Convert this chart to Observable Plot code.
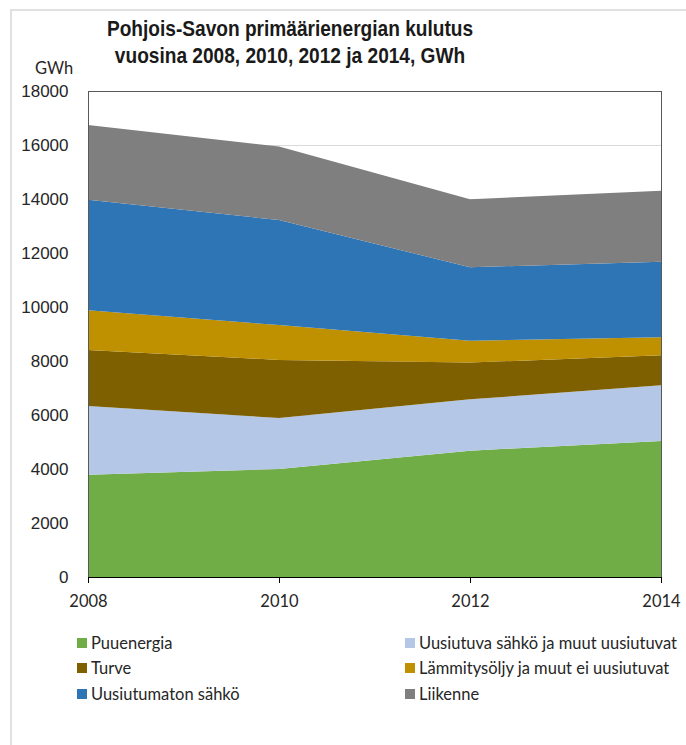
<!DOCTYPE html>
<html>
<head>
<meta charset="utf-8">
<script src="https://cdn.jsdelivr.net/npm/d3@7"></script>
<script src="https://cdn.jsdelivr.net/npm/@observablehq/plot@0.6"></script>
<style>
  html, body { margin: 0; padding: 0; background: #fff; }
  #wrap { position: relative; width: 686px; height: 745px; background: #fff; overflow: hidden; }
  #border { position: absolute; left: 10px; top: 9px; width: 700px; height: 760px;
            border-top: 2px solid #e0e0e0; border-left: 2px solid #e0e0e0; }
  .tline { position: absolute; left: 40px; width: 500px; text-align: center; white-space: nowrap;
           font-family: "Liberation Sans", Arial, sans-serif; font-weight: bold; font-size: 22px;
           line-height: 27px; color: #1a1a1a; transform: scaleX(0.868); transform-origin: 250px 50%; }
  #unit { position: absolute; left: 35px; top: 58px; font-family: Lato, "Open Sans", sans-serif;
          font-size: 16.5px; color: #262626; }
  #chart { position: absolute; left: 0; top: 60px; }
  .leg { position: absolute; font-family: Lato, "Open Sans", sans-serif; font-size: 16.5px; color: #262626;
         display: flex; align-items: center; white-space: nowrap; height: 20px; }
  .leg span.sw { display: inline-block; width: 10px; height: 10px; margin-right: 4px; }
</style>
</head>
<body>
<div id="wrap">
  <div id="border"></div>
  <div class="tline" style="top:15px">Pohjois-Savon primäärienergian kulutus</div>
  <div class="tline" style="top:42px">vuosina 2008, 2010, 2012 ja 2014, GWh</div>
  <div id="unit">GWh</div>
  <div id="chart"></div>
  <div id="legend"></div>
</div>
<script>
// ---- data ----
const years = [2008, 2010, 2012, 2014];
const seriesNames = [
  "Puuenergia",
  "Uusiutuva sähkö ja muut uusiutuvat",
  "Turve",
  "Lämmitysöljy ja muut ei uusiutuvat",
  "Uusiutumaton sähkö",
  "Liikenne"
];
const puuenergia   = [3790, 4000, 4680, 5040];
const uusiutuva    = [2540, 1890, 1900, 2060];
const turve        = [2080, 2150, 1360, 1110];
const lammitysoljy = [1470, 1290, 810, 670];
const uusiutumaton = [4090, 3890, 2720, 2800];
const liikenne     = [2770, 2720, 2520, 2630];
const seriesColors = ["#70AD47", "#B4C7E7", "#7F6000", "#BF9000", "#2E75B6", "#7F7F7F"];
const yTicks = [0, 2000, 4000, 6000, 8000, 10000, 12000, 14000, 16000, 18000];
const xTicks = [2008, 2010, 2012, 2014];

const valuesBySeries = [puuenergia, uusiutuva, turve, lammitysoljy, uusiutumaton, liikenne];
const data = [];
seriesNames.forEach((s, i) => {
  years.forEach((yr, j) => data.push({series: s, year: yr, value: valuesBySeries[i][j]}));
});

const chart = Plot.plot({
  width: 686,
  height: 560,
  marginTop: 31,
  marginBottom: 43,
  marginLeft: 88,
  marginRight: 25,
  style: {background: "transparent", overflow: "visible"},
  x: {type: "linear", domain: [2008, 2014], ticks: xTicks, tickFormat: d => String(d), label: null},
  y: {domain: [0, 18000], ticks: yTicks, label: null},
  color: {domain: seriesNames, range: seriesColors},
  marks: [
    Plot.ruleY(yTicks, {stroke: "#d9d9d9", strokeWidth: 1}),
    Plot.areaY(data, {x: "year", y: "value", z: "series", fill: "series", order: seriesNames}),
    Plot.frame({stroke: "#595959", strokeWidth: 1}),
    Plot.ruleY([0], {stroke: "#000", strokeWidth: 1.2}),
    Plot.axisY({ticks: yTicks, tickSize: 0, tickPadding: 20, tickFormat: d => String(d),
      fontFamily: "'Liberation Sans', Arial, sans-serif", fontSize: 17, fill: "#262626", label: null}),
    Plot.axisX({ticks: xTicks, tickSize: 6, tickPadding: 12, tickFormat: d => String(d),
      fontFamily: "Lato, 'Open Sans', sans-serif", fontSize: 16.5, fill: "#262626", stroke: "#000", label: null})
  ]
});
document.getElementById("chart").appendChild(chart);

// ---- legend ----
const legend = document.getElementById("legend");
const legPos = [
  {x: 77, y: 643}, {x: 405, y: 643},
  {x: 77, y: 668}, {x: 405, y: 668},
  {x: 77, y: 694}, {x: 405, y: 694}
];
seriesNames.forEach((name, k) => {
  const d = document.createElement("div");
  d.className = "leg";
  d.style.left = legPos[k].x + "px";
  d.style.top = (legPos[k].y - 10) + "px";
  const sw = document.createElement("span");
  sw.className = "sw";
  sw.style.background = seriesColors[k];
  d.appendChild(sw);
  d.appendChild(document.createTextNode(name));
  legend.appendChild(d);
});
</script>
</body>
</html>
